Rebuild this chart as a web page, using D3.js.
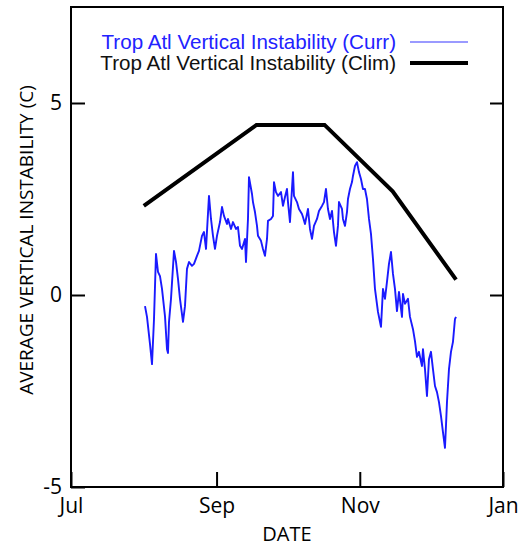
<!DOCTYPE html>
<html>
<head>
<meta charset="utf-8">
<script src="https://cdn.jsdelivr.net/npm/d3@7.9.0/dist/d3.min.js"></script>
<style>
  body { margin: 0; background: #fff; }
  svg text { font-family: "Open Sans", sans-serif; fill: #000; }
</style>
</head>
<body>
<svg id="chart" width="518" height="546"></svg>
<script>
// Current series: days after Jul 1 and value (C)
const currDays = [31.52, 32.37, 33.65, 34.50, 35.35, 36.20, 37.05, 37.90, 38.76, 40.03, 40.89, 41.31, 41.74, 42.59, 43.87, 44.72, 45.57, 46.42, 47.70, 48.55,
  49.40, 50.26, 51.53, 52.39, 53.66, 54.51, 55.79, 56.64, 57.50, 58.77, 59.63, 60.48, 61.33, 62.18, 63.46, 64.31, 65.16, 66.44, 66.87, 68.14,
  68.99, 70.27, 71.12, 71.98, 72.83, 74.11, 74.53, 75.38, 75.81, 77.09, 77.51, 78.36, 79.22, 79.64, 80.92, 81.77, 82.62, 83.48, 83.90, 85.18,
  86.03, 86.46, 87.31, 88.16, 89.44, 90.29, 91.14, 91.99, 92.42, 93.27, 94.55, 94.97, 96.25, 97.10, 98.38, 98.81, 99.66, 100.94, 101.79, 102.64,
  103.49, 104.77, 105.62, 106.90, 107.75, 108.60, 109.45, 110.31, 111.16, 112.01, 112.86, 113.71, 114.14, 115.42, 115.84, 116.70, 117.55, 117.97, 118.82, 119.68,
  120.10, 120.95, 121.81, 122.66, 123.51, 124.36, 125.21, 126.06, 126.92, 127.77, 128.62, 129.47, 130.75, 132.03, 132.88, 133.73, 134.58, 135.43, 136.29, 137.14,
  137.99, 138.84, 139.69, 140.97, 141.40, 142.25, 143.53, 144.38, 145.66, 146.51, 147.36, 148.21, 149.49, 149.91, 150.77, 151.62, 152.47, 153.32, 154.17, 155.03,
  155.88, 156.73, 157.58, 158.43, 159.28, 159.71, 160.14, 160.99, 161.84, 162.69, 163.54, 163.97];
const currValues = [-0.29, -0.57, -1.28, -1.80, -0.63, 1.07, 0.60, 0.49, 0.16, -0.55, -1.41, -1.51, -0.70, -0.10, 1.15, 0.86, 0.42, -0.10, -0.70, -0.29,
  0.68, 0.86, 0.76, 0.81, 1.02, 1.15, 1.54, 1.64, 1.20, 2.58, 1.98, 1.54, 1.20, 1.54, 1.90, 2.29, 2.06, 1.85, 1.98, 1.72,
  1.90, 1.72, 1.77, 1.28, 1.20, 1.46, 0.86, 1.98, 3.07, 2.63, 2.42, 2.16, 1.80, 1.54, 1.41, 1.20, 1.02, 1.46, 1.93, 1.98,
  2.06, 2.94, 2.68, 2.58, 2.68, 2.32, 2.55, 2.76, 2.42, 1.90, 3.20, 2.58, 2.42, 2.24, 2.11, 2.03, 1.85, 2.24, 1.72, 1.46,
  1.80, 1.98, 2.19, 2.32, 2.42, 2.76, 2.24, 1.98, 2.19, 1.64, 1.28, 1.80, 2.42, 2.24, 1.98, 1.80, 2.16, 2.50, 2.76, 2.94,
  3.10, 3.36, 3.46, 3.20, 3.02, 2.76, 2.76, 2.50, 1.98, 1.59, 0.94, 0.16, -0.44, -0.83, 0.16, -0.10, 0.34, 0.81, 1.12, 0.55,
  0.16, -0.42, 0.08, -0.57, 0.03, -0.23, -0.10, -0.57, -0.89, -1.20, -1.61, -1.48, -1.85, -1.41, -1.93, -2.63, -1.67, -1.48, -1.93, -2.37,
  -2.53, -2.79, -3.15, -3.57, -3.98, -3.41, -2.79, -1.93, -1.48, -1.22, -0.63, -0.57];

// Climatology series
const climDates = ["2012-08-01", "2012-09-18", "2012-10-17", "2012-11-15", "2012-12-12"];
const climValues = [2.32, 4.43, 4.43, 2.70, 0.40];

// Axis ticks
const xTickDates = ["2012-07-01", "2012-09-01", "2012-11-01", "2013-01-01"];
const xTickLabels = ["Jul", "Sep", "Nov", "Jan"];
const yTickValues = [-5, 0, 5];

const legendLabels = ["Trop Atl Vertical Instability (Curr)", "Trop Atl Vertical Instability (Clim)"];

const width = 518, height = 546;
const margin = { top: 7, right: 15, bottom: 59, left: 71 };
const parse = d3.timeParse("%Y-%m-%d");
const start = parse("2012-07-01");

const svg = d3.select("#chart");

let x = d3.scaleTime()
  .domain([start, parse("2013-01-01")])
  .range([margin.left, width - margin.right]);
let y = d3.scaleLinear()
  .domain([-5, 7.5])
  .range([height - margin.bottom, margin.top]);

let curr = currDays.map((d, i) => ({ date: new Date(start.getTime() + d * 864e5), value: currValues[i] }));
let clim = climDates.map((d, i) => ({ date: parse(d), value: climValues[i] }));

let line = d3.line().x(d => x(d.date)).y(d => y(d.value));

// clim line under, curr on top
svg.append("path")
  .datum(clim)
  .attr("d", line)
  .attr("fill", "none")
  .attr("stroke", "#000")
  .attr("stroke-width", 4);

svg.append("path")
  .datum(curr)
  .attr("d", line)
  .attr("fill", "none")
  .attr("stroke", "#1a1aff")
  .attr("stroke-width", 1.9)
  .attr("stroke-linejoin", "round");

// axes (inner ticks)
let xAxis = d3.axisBottom(x)
  .tickValues(xTickDates.map(parse))
  .tickFormat((d, i) => xTickLabels[i])
  .tickSize(-15)
  .tickPadding(11);
let gx = svg.append("g")
  .attr("transform", `translate(0,${height - margin.bottom})`)
  .call(xAxis);

let yAxis = d3.axisLeft(y)
  .tickValues(yTickValues)
  .tickFormat(d => String(d))
  .tickSize(-14)
  .tickPadding(9);
let gy = svg.append("g")
  .attr("transform", `translate(${margin.left},0)`)
  .call(yAxis);

let gyr = svg.append("g")
  .attr("transform", `translate(${width - margin.right},0)`)
  .call(d3.axisRight(y).tickValues([0, 5]).tickSize(-13).tickFormat(""));

[gx, gy, gyr].forEach(g => {
  g.select(".domain").remove();
  g.selectAll(".tick line").attr("stroke", "#000").attr("stroke-width", 2);
  g.selectAll(".tick text").style("font-size", "21px").attr("fill", "#000");
});

// frame
svg.append("rect")
  .attr("x", margin.left)
  .attr("y", margin.top)
  .attr("width", width - margin.left - margin.right)
  .attr("height", height - margin.top - margin.bottom)
  .attr("fill", "none")
  .attr("stroke", "#000")
  .attr("stroke-width", 2);

// axis titles
svg.append("text")
  .attr("x", (margin.left + width - margin.right) / 2)
  .attr("y", 541)
  .attr("text-anchor", "middle")
  .style("font-size", "20px")
  .text("DATE");

svg.append("text")
  .attr("transform", "rotate(-90)")
  .attr("x", -240)
  .attr("y", 33)
  .attr("text-anchor", "middle")
  .style("font-size", "19px")
  .text("AVERAGE VERTICAL INSTABILITY (C)");

// legend
let legendColors = ["#2222ff", "#111"];
let legendStroke = ["#9a9aff", "#000"];
let legendWidth = [2, 4];
legendLabels.forEach((label, i) => {
  let ly = 42 + i * 21;
  svg.append("text")
    .attr("x", 396)
    .attr("y", ly + 7)
    .attr("text-anchor", "end")
    .style("font-family", "'Liberation Sans', Arial, sans-serif")
    .style("font-size", "20.6px")
    .style("fill", legendColors[i])
    .text(label);
  svg.append("line")
    .attr("x1", 410).attr("x2", 468)
    .attr("y1", ly).attr("y2", ly)
    .attr("stroke", legendStroke[i])
    .attr("stroke-width", legendWidth[i]);
});
</script>
</body>
</html>
